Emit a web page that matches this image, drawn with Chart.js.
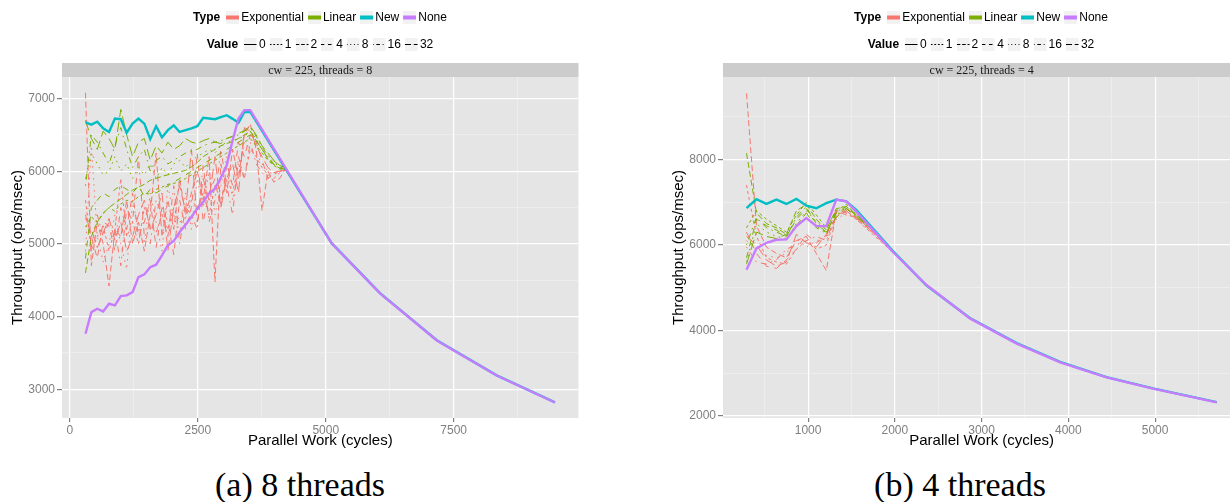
<!DOCTYPE html>
<html>
<head>
<meta charset="utf-8">
<script src="https://cdn.jsdelivr.net/npm/chart.js@4.4.1/dist/chart.umd.min.js"></script>
<style>
  html, body { margin: 0; padding: 0; background: #fff; }
  body { width: 1230px; height: 502px; overflow: hidden; position: relative;
         font-family: "Liberation Sans", Arial, sans-serif; }
  canvas { position: absolute; top: 0; }
  .leg { position: absolute; display: flex; align-items: center; font-size: 12px;
         color: #000; white-space: nowrap; transform: translate(-50%, -50%); }
  .leg b { margin-right: 4px; }
  .leg svg { margin: 0 2px 0 2px; }
  .leg span { margin-right: 2px; }
  .cap { position: absolute; font-family: "Liberation Serif", "DejaVu Serif", serif;
         font-size: 34px; transform: translate(-50%, -50%); white-space: nowrap; }
</style>
</head>
<body>
<canvas id="c8" width="600" height="450" style="left:0px"></canvas>
<canvas id="c4" width="600" height="450" style="left:661px"></canvas>
<div class="leg" id="type8" style="left:321px;top:17px"></div>
<div class="leg" id="val8" style="left:321px;top:44px"></div>
<div class="leg" id="type4" style="left:982px;top:17px"></div>
<div class="leg" id="val4" style="left:982px;top:44px"></div>
<div class="cap" style="left:300px;top:485px">(a) 8 threads</div>
<div class="cap" style="left:960px;top:485px">(b) 4 threads</div>
<script>
// ---------- dados: painel (a) 8 threads ----------
const xs8 = [305, 420, 535, 650, 765, 880, 995, 1110, 1225, 1340, 1455, 1570, 1685, 1800, 1915,
  2030, 2145, 2260, 2375, 2490, 2605, 2720, 2835, 2950, 3065, 3180, 3295, 3410, 3525,
  3640, 3755, 3870, 3985, 4100, 4215, 5115, 6060, 7170, 8340, 9480];

const none8 = [3763, 4061, 4107, 4070, 4176, 4153, 4281, 4291, 4336, 4543, 4580, 4680, 4713, 4842, 4979,
  5039, 5163, 5264, 5369, 5485, 5576, 5691, 5760, 5910, 6080, 6425, 6725, 6840, 6840,
  null, null, null, null, null, null, 5007, 4318, 3671, 3189, 2817];
const new8 = [6670, 6640, 6680, 6590, 6540, 6725, 6715, 6530, 6655, 6725, 6655, 6440, 6620, 6465, 6565,
  6630, 6540, 6565, 6590, 6620, 6735, 6725, 6715, 6745, 6770, 6720, 6665, 6815, 6815,
  null, null, null, null, null, null, 5010, 4322, 3674, 3191, 2819];

const exp8v1 = [5600, 4900, 5100, 5250, 4900, 5200, 5900, 5100, 5300, 5000, 5500, 5250, 5150, 5400, 5200,
  5500, 5300, 5350, 5600, 5500, 5700, 5400, 5800, 5600, 5900, 5700, 6100, 5900, 6300,
  6200, 6050, 5950, 5900, 5980, 6030, 5010, 4320, 3672, 3190, 2818];
const exp8v2 = [7080, 4700, 5300, 5000, 4420, 5200, 5100, 5600, 5000, 5300, 4900, 5400, 6250, 5100, 5600,
  5200, 5900, 5400, 5700, 6000, 5600, 6200, 4480, 6100, 5700, 6300, 5900, 6500, 6650,
  6300, 5460, 6000, 5850, 5900, 6035, 5012, 4321, 3670, 3188, 2817];
const exp8v4 = [5400, 5100, 4800, 5300, 5250, 4900, 5500, 5200, 5700, 5100, 5300, 5600, 4950, 5500, 5300,
  4850, 5600, 5200, 5500, 6250, 5300, 5700, 5900, 5500, 6100, 5800, 6400, 6200, 6500,
  6400, 6150, 5900, 5980, 6000, 6040, 5008, 4319, 3673, 3190, 2818];
const exp8v8 = [4900, 6350, 5100, 4750, 5000, 5400, 5000, 4650, 5600, 5200, 5000, 5700, 5300, 4900, 5800,
  5400, 5100, 5700, 5200, 5900, 5500, 6000, 5400, 5800, 6200, 5600, 6000, 6400, 6300,
  6250, 6100, 6000, 5950, 6000, 6025, 5010, 4320, 3671, 3189, 2818];
const exp8v16 = [5000, 4950, 5400, 5100, 5300, 5200, 4700, 5500, 5300, 6200, 5100, 5000, 5600, 5400, 5100,
  5800, 5000, 5500, 5400, 5200, 6100, 5300, 5600, 6300, 5800, 5400, 6200, 5900, 6400,
  6100, 5980, 5900, 5960, 5990, 6030, 5009, 4319, 3672, 3189, 2817];
const exp8v32 = [5350, 5200, 4950, 5150, 5350, 5050, 5300, 4900, 5100, 5400, 5600, 5200, 5400, 5700, 4900,
  5500, 5800, 5450, 6300, 5300, 5900, 5600, 6200, 5500, 5900, 6100, 5700, 6600, 6550,
  6350, 6200, 6050, 5980, 6000, 6030, 5011, 4320, 3671, 3190, 2818];

const lin8v1 = [5230, 5370, 5300, 5420, 5500, 5450, 5550, 5600, 5580, 5650, 5700, 5680, 5750, 5780, 5820,
  5833, 5850, 5900, 5950, 6000, 6050, 6100, 6150, 6200, 6250, 6300, 6350, 6400, 6450,
  6350, 6250, 6150, 6080, 6030, 6020, 5010, 4320, 3671, 3190, 2818];
const lin8v2 = [4600, 5100, 5300, 5420, 5500, 5560, 5620, 5680, 5740, 5780, 5820, 5875, 5900, 5930, 5950,
  5970, 5990, 6010, 6060, 6120, 6200, 6250, 6300, 6350, 6380, 6410, 6450, 6500, 6550,
  6420, 6300, 6170, 6090, 6040, 6030, 5011, 4321, 3672, 3190, 2818];
const lin8v4 = [4800, 5500, 5600, 5700, 5650, 5750, 5800, 5750, 5700, 5800, 5650, 5750, 5700, 5750, 5800,
  5850, 5900, 5950, 6000, 6050, 6100, 6150, 6200, 6250, 6300, 6350, 6400, 6450, 6500,
  6420, 6300, 6180, 6100, 6050, 6025, 5009, 4320, 3671, 3189, 2818];
const lin8v8 = [5900, 6250, 6100, 5950, 6000, 6200, 6000, 6100, 5900, 6050, 5950, 6100, 5900, 6050, 5950,
  6100, 6150, 6050, 6150, 6200, 6250, 6300, 6250, 6350, 6400, 6420, 6450, 6480, 6550,
  6450, 6300, 6200, 6120, 6060, 6035, 5010, 4321, 3672, 3190, 2818];
const lin8v16 = [5800, 6500, 6400, 6250, 6100, 6350, 6600, 6300, 6050, 6200, 6300, 6000, 6150, 6200, 6100,
  6150, 6200, 6250, 6280, 6300, 6350, 6380, 6400, 6420, 6450, 6480, 6500, 6550, 6600,
  6480, 6330, 6220, 6140, 6080, 6040, 5011, 4320, 3671, 3190, 2818];
const lin8v32 = [6700, 6450, 6300, 6550, 6450, 6300, 6850, 6500, 6200, 6400, 6450, 6150, 6350, 6250, 6400,
  6300, 6350, 6450, 6400, 6380, 6420, 6450, 6400, 6380, 6450, 6480, 6520, 6560, 6620,
  6500, 6350, 6250, 6150, 6080, 6045, 5010, 4320, 3672, 3190, 2818];

const xTicks8 = [0, 1250, 2500, 3750, 5000, 6250, 7500, 8750];
const xLabels8 = [0, 2500, 5000, 7500];
const yTicks8 = [3000, 3500, 4000, 4500, 5000, 5500, 6000, 6500, 7000];
const yLabels8 = [3000, 4000, 5000, 6000, 7000];

// ---------- dados: painel (b) 4 threads ----------
const xs4 = [290, 405, 520, 635, 750, 865, 980, 1095, 1210, 1325, 1440, 1555, 1745, 1975, 2365,
  2865, 3405, 3905, 4440, 4975, 5710];

const none4 = [5420, 5920, 6050, 6120, 6130, 6440, 6630, 6440, 6440, 7060, 7020, 6780, 6360, 5840, 5060,
  4280, 3690, 3250, 2900, 2635, 2313];
const new4 = [6860, 7070, 6960, 7060, 6960, 7080, 6920, 6860, 6980, 7060, 7020, 6820, 6390, 5860, 5050,
  4290, 3700, 3260, 2905, 2640, 2318];

const exp4v1 = [7400, 6200, 5700, 5600, 5550, 5900, 6100, 5900, 6000, 6700, 6800, 6600, 6250, 5830, 5065,
  4288, 3696, 3256, 2904, 2638, 2315];
const exp4v2 = [9550, 6450, 5950, 5800, 5700, 6100, 6200, 5800, 5400, 6800, 6700, 6650, 6300, 5845, 5062,
  4285, 3694, 3255, 2903, 2637, 2314];
const exp4v4 = [6300, 5800, 5500, 5450, 5650, 5900, 6250, 6050, 6200, 6850, 6750, 6650, 6320, 5850, 5068,
  4290, 3697, 3257, 2905, 2639, 2316];
const exp4v8 = [6100, 5900, 5750, 5700, 5800, 6150, 5950, 6100, 6150, 6600, 6750, 6600, 6280, 5838, 5063,
  4286, 3695, 3255, 2903, 2638, 2315];
const exp4v16 = [5950, 5600, 5550, 5650, 5900, 6000, 6100, 6200, 6100, 6750, 6850, 6700, 6330, 5852, 5066,
  4289, 3696, 3256, 2904, 2638, 2315];
const exp4v32 = [6200, 6000, 5650, 5500, 5600, 6250, 6050, 5950, 6250, 6650, 6800, 6620, 6300, 5842, 5064,
  4287, 3695, 3255, 2903, 2638, 2315];

const lin4v1 = [6400, 6800, 6600, 6450, 6300, 6700, 7000, 6700, 6400, 6800, 6950, 6700, 6360, 5855, 5068,
  4292, 3699, 3258, 2906, 2640, 2316];
const lin4v2 = [8150, 6750, 6500, 6400, 6250, 6800, 6950, 6600, 6350, 6850, 6900, 6720, 6370, 5860, 5070,
  4293, 3700, 3259, 2906, 2640, 2317];
const lin4v4 = [5700, 6600, 6450, 6350, 6200, 6600, 6850, 6500, 6300, 6750, 6900, 6680, 6340, 5850, 5066,
  4290, 3698, 3257, 2905, 2639, 2316];
const lin4v8 = [5600, 6500, 6300, 6200, 6150, 6500, 6800, 6550, 6350, 6700, 6880, 6700, 6350, 5852, 5067,
  4291, 3698, 3257, 2905, 2639, 2316];
const lin4v16 = [6000, 6650, 6400, 6300, 6200, 6650, 6900, 6450, 6250, 6800, 6850, 6690, 6380, 5858, 5069,
  4292, 3699, 3258, 2906, 2640, 2316];
const lin4v32 = [5550, 6300, 6200, 6150, 6250, 6450, 6750, 6400, 6300, 6650, 6850, 6660, 6345, 5848, 5065,
  4289, 3697, 3257, 2905, 2639, 2316];

const xTicks4 = [500, 1000, 1500, 2000, 2500, 3000, 3500, 4000, 4500, 5000, 5500];
const xLabels4 = [1000, 2000, 3000, 4000, 5000];
const yTicks4 = [2000, 3000, 4000, 5000, 6000, 7000, 8000, 9000];
const yLabels4 = [2000, 4000, 6000, 8000];

// categorias da legenda
const types = ['Exponential', 'Linear', 'New', 'None'];
const values = ['0', '1', '2', '4', '8', '16', '32'];

// ---------- estilos ----------
const typeColors = { Exponential: '#F8766D', Linear: '#7CAE00', New: '#00BFC4', None: '#C77CFF' };
const valueDash = { '0': [], '1': [3, 3], '2': [6, 3], '4': [6, 6], '8': [1.5, 4.5], '16': [1.5, 4.5, 6, 4.5], '32': [10.5, 4.5] };

Chart.defaults.font.family = '"Liberation Sans", Arial, sans-serif';

function ds(type, value, xs, ys) {
  const thick = (type === 'New' || type === 'None');
  return {
    label: type + ' ' + value,
    data: xs.map((x, i) => ({ x: x, y: ys[i] })),
    borderColor: typeColors[type],
    borderWidth: thick ? 2.4 : 1,
    borderDash: valueDash[value],
    pointRadius: 0,
    tension: 0,
    spanGaps: true,
    fill: false
  };
}

// fundo cinza do painel + faixa "cw = ..."
const stripPlugin = {
  id: 'strip',
  beforeDraw(chart, args, opts) {
    const { ctx, chartArea: a } = chart;
    ctx.save();
    ctx.fillStyle = '#e5e5e5';
    ctx.fillRect(a.left, a.top, a.right - a.left, a.bottom - a.top);
    ctx.fillStyle = '#cccccc';
    ctx.fillRect(a.left, a.top - 14, a.right - a.left, 14);
    ctx.fillStyle = '#1a1a1a';
    ctx.font = '12px "Liberation Serif", serif';
    ctx.textAlign = 'center';
    ctx.textBaseline = 'middle';
    ctx.fillText(opts.text, (a.left + a.right) / 2, a.top - 6.5);
    ctx.restore();
  }
};

function axis(ticksArr, labelsArr, min, max, title, horizontal) {
  const isMajor = (c) => c.tick && labelsArr.includes(c.tick.value);
  return {
    type: 'linear',
    min: min,
    max: max,
    afterBuildTicks: (s) => { s.ticks = ticksArr.map(v => ({ value: v })); },
    afterFit: (s) => { if (horizontal) s.height = 32; else s.width = 62; },
    border: { display: false },
    grid: {
      color: (c) => isMajor(c) ? '#ffffff' : '#f2f2f2',
      lineWidth: (c) => isMajor(c) ? 1.2 : 0.6,
      tickColor: (c) => isMajor(c) ? '#7f7f7f' : 'rgba(0,0,0,0)',
      tickLength: horizontal ? 4 : 5,
      drawTicks: true
    },
    ticks: {
      autoSkip: false,
      maxRotation: 0,
      color: '#7f7f7f',
      font: { size: 12 },
      padding: horizontal ? 1 : 2,
      callback: (v) => labelsArr.includes(v) ? String(v) : ''
    },
    title: {
      display: true,
      text: title,
      color: '#000',
      font: { size: 15 },
      padding: horizontal ? { top: 0, bottom: 0 } : { top: 9, bottom: 0 }
    }
  };
}

function makeChart(id, xs, s, xOpt, yOpt, strip, padRight) {
  const datasets = [
    ds('None', '0', xs, s.none), ds('New', '0', xs, s.neu),
    ds('Linear', '1', xs, s.lin[0]), ds('Linear', '2', xs, s.lin[1]), ds('Linear', '4', xs, s.lin[2]),
    ds('Linear', '8', xs, s.lin[3]), ds('Linear', '16', xs, s.lin[4]), ds('Linear', '32', xs, s.lin[5]),
    ds('Exponential', '1', xs, s.exp[0]), ds('Exponential', '2', xs, s.exp[1]), ds('Exponential', '4', xs, s.exp[2]),
    ds('Exponential', '8', xs, s.exp[3]), ds('Exponential', '16', xs, s.exp[4]), ds('Exponential', '32', xs, s.exp[5])
  ];
  return new Chart(document.getElementById(id), {
    type: 'line',
    data: { datasets: datasets },
    options: {
      responsive: false,
      animation: false,
      events: [],
      layout: { padding: { top: 77, right: padRight, left: 0, bottom: 0 } },
      plugins: { legend: { display: false }, tooltip: { enabled: false }, strip: { text: strip } },
      scales: { x: xOpt, y: yOpt }
    },
    plugins: [stripPlugin]
  });
}

makeChart('c8', xs8,
  { none: none8, neu: new8,
    lin: [lin8v1, lin8v2, lin8v4, lin8v8, lin8v16, lin8v32],
    exp: [exp8v1, exp8v2, exp8v4, exp8v8, exp8v16, exp8v32] },
  axis(xTicks8, xLabels8, -154, 9939, 'Parallel Work (cycles)', true),
  axis(yTicks8, yLabels8, 2604, 7296, 'Throughput (ops/msec)', false),
  'cw = 225, threads = 8', 21.5);

makeChart('c4', xs4,
  { none: none4, neu: new4,
    lin: [lin4v1, lin4v2, lin4v4, lin4v8, lin4v16, lin4v32],
    exp: [exp4v1, exp4v2, exp4v4, exp4v8, exp4v16, exp4v32] },
  axis(xTicks4, xLabels4, 19, 5982, 'Parallel Work (cycles)', true),
  axis(yTicks4, yLabels4, 1947, 9933, 'Throughput (ops/msec)', false),
  'cw = 225, threads = 4', 20.7);

// ---------- legendas (HTML) ----------
function keySvg(color, dash, width) {
  const d = dash.length ? ' stroke-dasharray="' + dash.join(',') + '"' : '';
  return '<svg width="13" height="13"><rect width="13" height="13" fill="#f2f2f2"/>' +
    '<line x1="0" y1="6.5" x2="13" y2="6.5" stroke="' + color + '" stroke-width="' + width + '"' + d + '/></svg>';
}
function fillLegends(typeId, valId) {
  let h = '<b>Type</b>';
  types.forEach(t => { h += keySvg(typeColors[t], [], 4) + '<span>' + t + '</span>'; });
  document.getElementById(typeId).innerHTML = h;
  let v = '<b>Value</b>';
  values.forEach(k => { v += keySvg('#000', valueDash[k].map(n => n * 0.6), 1) + '<span>' + k + '</span>'; });
  document.getElementById(valId).innerHTML = v;
}
fillLegends('type8', 'val8');
fillLegends('type4', 'val4');
</script>
</body>
</html>
